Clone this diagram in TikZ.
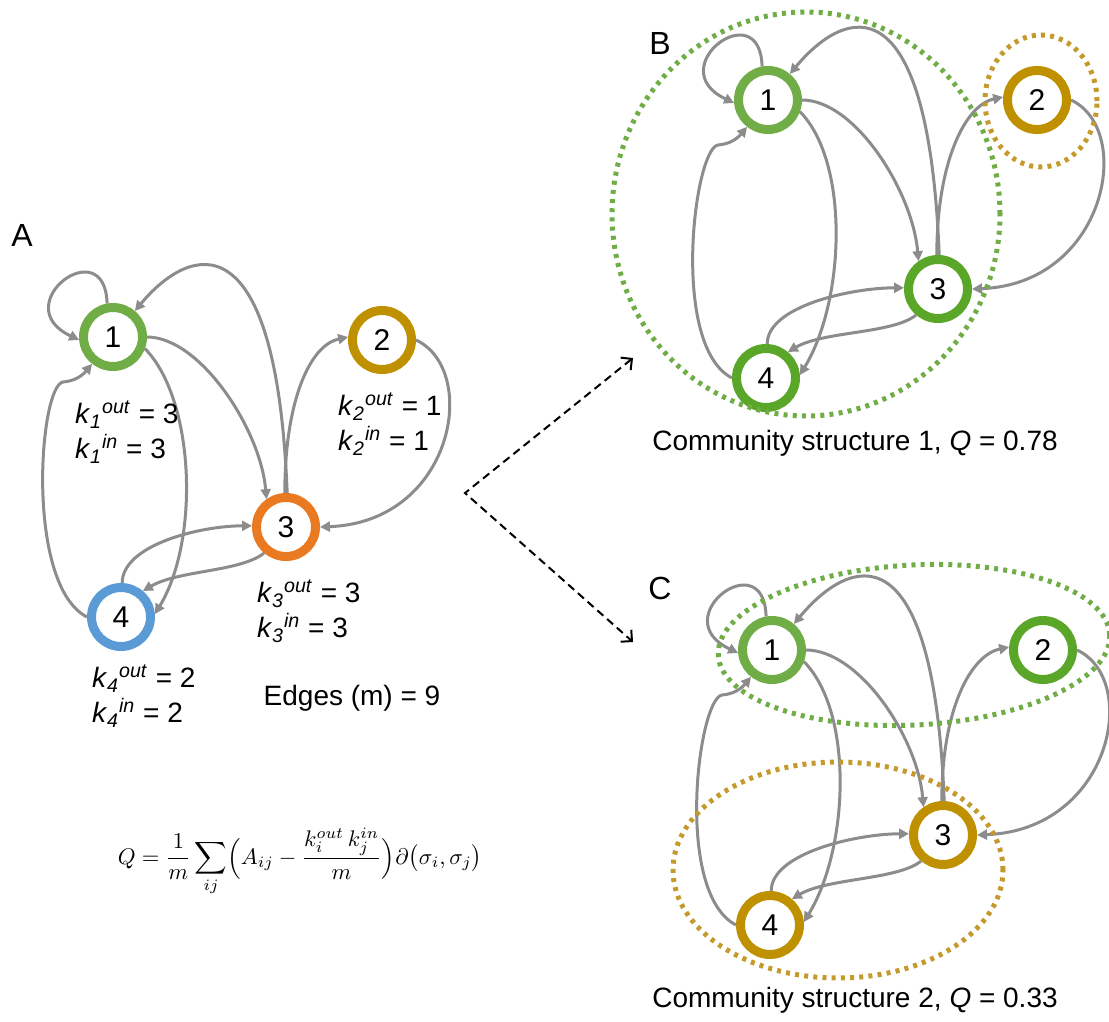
\documentclass[tikz,border=0pt]{standalone}
\usepackage[no-math]{fontspec}
\setmainfont{Liberation Sans}
\usetikzlibrary{arrows.meta,calc}

\definecolor{lgreen}{HTML}{70AD47}
\definecolor{dgreen}{HTML}{5AA628}
\definecolor{gold}{HTML}{BF9000}
\definecolor{dotgold}{HTML}{C49A2C}
\definecolor{orng}{HTML}{E97A22}
\definecolor{blu}{HTML}{5B9BD5}
\definecolor{edgegray}{HTML}{8C8C8C}

% k_i^out = n
\newcommand\kdeg[3]{\textit{k}\textsubscript{\textit{#1}}\textsuperscript{\textit{#2}} = #3}

\begin{document}
\begin{tikzpicture}[x=0.5pt, y=0.5pt,
  vert/.style={circle, draw, line width=4.5pt, fill=white, minimum size=29.5pt, inner sep=0pt, font=\fontsize{15}{18}\selectfont},
  link/.style={draw=edgegray, line width=1.5pt, -{Triangle[length=5pt,width=5pt]}},
  community/.style={line width=2.5pt, dash pattern=on 2pt off 2.6pt},
  degree/.style={align=left, anchor=west, font=\fontsize{14}{17.5}\selectfont},
  caption/.style={font=\fontsize{14}{17}\selectfont},
  panel/.style={font=\fontsize{16}{19}\selectfont}]
	\useasboundingbox (0,0) rectangle (1109,-1022);
	
	% panel letters
	\node[panel] (labA) at (22,-235) {A};
	\node[panel] (labB) at (660,-43) {B};
	\node[panel] (labC) at (660,-588) {C};
	
	% A: original network
	\node[vert, draw=lgreen] (a1) at (113,-337) {1};
	\node[vert, draw=gold] (a2) at (382,-340) {2};
	\node[vert, draw=orng] (a3) at (286,-527) {3};
	\node[vert, draw=blu] (a4) at (121,-617) {4};
	
	% B: community structure 1
	\node[vert, draw=lgreen] (b1) at (768,-100) {1};
	\node[vert, draw=gold] (b2) at (1037,-100) {2};
	\node[vert, draw=dgreen] (b3) at (938,-289) {3};
	\node[vert, draw=dgreen] (b4) at (766,-378) {4};
	
	% C: community structure 2
	\node[vert, draw=lgreen] (c1) at (772,-650) {1};
	\node[vert, draw=dgreen] (c2) at (1043,-650) {2};
	\node[vert, draw=gold] (c3) at (943,-835) {3};
	\node[vert, draw=gold] (c4) at (770,-925) {4};
	
	% the same 9 edges in every panel
	\foreach \p in {a,b,c} {
		\draw[link] (\p1.100) .. controls +(-2,74) and +(-74,35) .. (\p1.185);
		\draw[link] (\p1.0) .. controls +(53,0) and +(-6,70) .. (\p3.125);
		\draw[link] (\p3.88) .. controls +(-11,278) and +(55,66) .. (\p1.50);
		\draw[link] (\p1.-20) .. controls +(50,-51) and +(45,74) .. (\p4.5);
		\draw[link] (\p4.180) .. controls +(-62,32) and +(-24,-4) .. ($(\p1)+(-50,-45)$)
			.. controls +(12,1) and +(-10,-12) .. (\p1.232);
		\draw[link] (\p3.92) .. controls +(0,93) and +(-38,-8) .. (\p2.175);
		\draw[link] (\p2.0) .. controls +(64,-30) and +(134,5) .. (\p3.0);
		\draw[link] (\p4.88) .. controls +(0,38) and +(-52,0) .. (\p3.178);
		\draw[link] (\p3.230) .. controls +(-24,-19) and +(36,21) .. (\p4.50);
	}
	
	% communities
	\draw[community, lgreen] (806,-214) ellipse (194 and 202);
	\draw[community, dotgold] (1041,-101) ellipse (56 and 66);
	\draw[community, lgreen, rotate around={3:(914,-645)}] (914,-645) ellipse (196 and 80);
	\draw[community, dotgold] (838,-870) ellipse (165 and 108);
	
	% degrees and edge count
	\node[degree] (deg1) at (68,-432) {\kdeg{1}{out}{3}\\ \kdeg{1}{in}{3}};
	\node[degree] (deg2) at (331,-424) {\kdeg{2}{out}{1}\\ \kdeg{2}{in}{1}};
	\node[degree] (deg3) at (250,-611) {\kdeg{3}{out}{3}\\ \kdeg{3}{in}{3}};
	\node[degree] (deg4) at (85,-696) {\kdeg{4}{out}{2}\\ \kdeg{4}{in}{2}};
	\node[caption] (edges) at (352,-698) {Edges (m) = 9};
	
	% modularity
	\node[scale=1.13] (modularity) at (300,-862)
		{$\displaystyle Q=\frac{1}{m}\sum_{ij}\Bigl(A_{ij}-\frac{k_i^{out}\,k_j^{in}}{m}\Bigr)\partial\bigl(\sigma_i,\sigma_j\bigr)$};
	
	% dashed arrows to B and C
	\coordinate (fork) at (465,-493);
	\coordinate (toB) at (633,-358);
	\coordinate (toC) at (633,-642);
	\draw[{Straight Barb[length=4pt,width=8pt]}-{Straight Barb[length=4pt,width=8pt]}, line width=1pt, dash pattern=on 4pt off 2.5pt] (toB) -- (fork) -- (toC);
	
	\node[caption] (capB) at (855,-443) {Community structure 1, \textit{Q} = 0.78};
	\node[caption] (capC) at (855,-1000) {Community structure 2, \textit{Q} = 0.33};
\end{tikzpicture}
\end{document}
